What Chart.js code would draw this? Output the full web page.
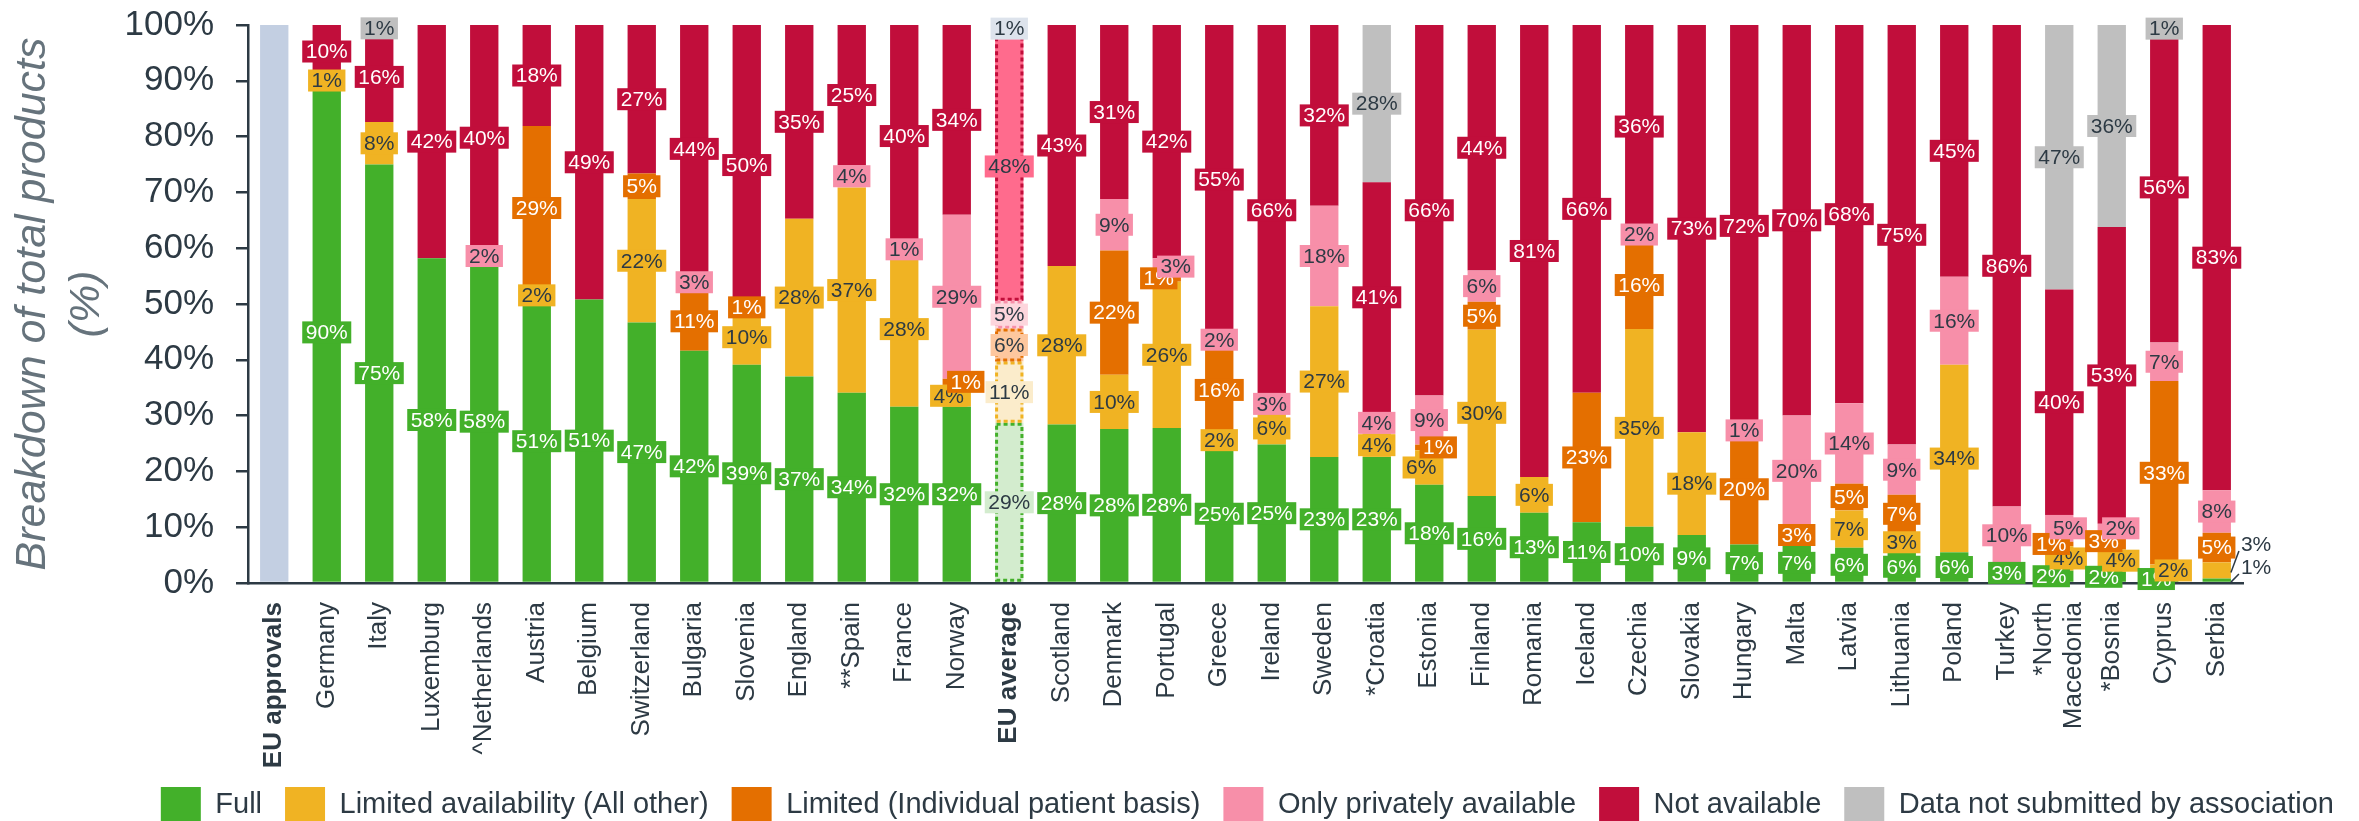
<!DOCTYPE html>
<html>
<head>
<meta charset="utf-8">
<script src="https://cdn.jsdelivr.net/npm/chart.js@4.4.1/dist/chart.umd.min.js"></script>
<style>
  html, body { margin: 0; padding: 0; background: #fff; }
  #wrap { width: 2359px; height: 821px; }
</style>
</head>
<body>
<div id="wrap"><canvas id="chart"></canvas></div>
<script>
// Disponibilidad de productos por pais, barras apiladas al 100%.

const FONT = "'Liberation Sans', Arial, sans-serif";
const INK = '#2d3a44';

const categories = [
  'EU approvals', 'Germany', 'Italy', 'Luxemburg', '^Netherlands', 'Austria', 'Belgium', 'Switzerland',
  'Bulgaria', 'Slovenia', 'England', '**Spain', 'France', 'Norway', 'EU average', 'Scotland', 'Denmark',
  'Portugal', 'Greece', 'Ireland', 'Sweden', '*Croatia', 'Estonia', 'Finland', 'Romania', 'Iceland',
  'Czechia', 'Slovakia', 'Hungary', 'Malta', 'Latvia', 'Lithuania', 'Poland', 'Turkey',
  ['*North', 'Macedonia'], '*Bosnia', 'Cyprus', 'Serbia'
];
const boldCategories = ['EU approvals', 'EU average'];

const euApprovals = [100, 0, 0, 0, 0, 0, 0, 0, 0, 0, 0, 0, 0, 0, 0, 0, 0, 0, 0, 0, 0, 0, 0, 0, 0, 0, 0, 0, 0, 0, 0, 0, 0, 0, 0, 0, 0, 0];

const fullAccess = [0, 89.6, 75, 58.2, 57.6, 50.6, 50.8, 46.7, 41.6, 39.1, 37.0, 34.1, 31.6, 31.6, 28.7, 28.4, 27.6,
  27.8, 24.6, 24.8, 22.6, 22.6, 17.6, 15.6, 12.6, 10.9, 10.1, 8.6, 6.9, 7.0, 6.3, 5.6, 5.5, 3.4, 2.2, 2.0, 1.2, 0.8];
const limitedOther = [0, 0.9, 7.6, 0, 0, 1.9, 0, 22.1, 0, 9.9, 28.3, 36.8, 27.8, 3.9, 11.0, 28.4, 9.7,
  26.2, 2.0, 5.8, 27.0, 4.2, 6.2, 29.8, 6.4, 0, 35.4, 18.4, 0, 0, 6.7, 3.4, 33.6, 0, 4.4, 4.0, 2.1, 2.9];
const limitedPatient = [0, 0, 0, 0, 0, 29.4, 0, 4.6, 10.6, 0.8, 0, 0, 0, 1.1, 5.9, 0, 22.3,
  1.2, 16.0, 0, 0, 0, 1.0, 5.0, 0, 23.2, 15.8, 0, 19.8, 3.2, 4.8, 6.8, 0, 0, 0.8, 3.0, 32.9, 5.3];
const privateOnly = [0, 0, 0, 0, 2.0, 0, 0, 0, 3.4, 0, 0, 4.0, 0.8, 29.4, 5.0, 0, 9.2,
  3.0, 2.0, 3.0, 18.0, 3.8, 8.8, 5.6, 0, 0, 2.3, 0, 1.3, 19.8, 14.4, 9.0, 15.8, 10.3, 4.8, 1.6, 6.9, 7.6];
const notAvailable = [0, 9.5, 16.2, 41.8, 40.4, 18.1, 49.2, 26.6, 44.4, 50.2, 34.7, 25.1, 39.8, 34.0, 48.1, 43.2, 31.2,
  41.8, 55.4, 66.4, 32.4, 41.2, 66.4, 44.0, 81.0, 65.9, 36.4, 73.0, 72.0, 70.0, 67.8, 75.2, 45.1, 86.3, 40.4, 53.2, 55.6, 83.4];
const notSubmitted = [0, 0, 1.2, 0, 0, 0, 0, 0, 0, 0, 0, 0, 0, 0, 1.3, 0, 0,
  0, 0, 0, 0, 28.2, 0, 0, 0, 0, 0, 0, 0, 0, 0, 0, 0, 0, 47.4, 36.2, 1.3, 0];

const series = [
  { label: 'Full', data: fullAccess, color: '#43b02a', avgColor: '#d3ecce', darkText: false },
  { label: 'Limited availability (All other)', data: limitedOther, color: '#f0b323', avgColor: '#fbeccb', darkText: true },
  { label: 'Limited (Individual patient basis)', data: limitedPatient, color: '#e46f00', avgColor: '#fdc79e', darkText: false },
  { label: 'Only privately available', data: privateOnly, color: '#f78fa9', avgColor: '#fdd5dc', darkText: true },
  { label: 'Not available', data: notAvailable, color: '#c10e3b', avgColor: '#ff6b8d', darkText: false },
  { label: 'Data not submitted by association', data: notSubmitted, color: '#bfbfbf', avgColor: '#dde3ec', darkText: true },
];
const AVG_IDX = categories.indexOf('EU average');
const LAST_IDX = categories.length - 1;

// Etiquetas del eje x dibujadas a mano (las de dos lineas centradas en la barra)
const categoryLabels = {
  id: 'categoryLabels',
  afterDraw(chart) {
    const ctx = chart.ctx;
    const sx = chart.scales.x;
    const lh = 30;
    ctx.save();
    ctx.fillStyle = INK;
    ctx.textAlign = 'right';
    ctx.textBaseline = 'middle';
    categories.forEach((cat, i) => {
      const lines = Array.isArray(cat) ? cat : [cat];
      const bold = boldCategories.includes(cat);
      ctx.font = `${bold ? 'bold ' : ''}26px ${FONT}`;
      ctx.save();
      ctx.translate(sx.getPixelForTick(i), sx.top + 19);
      ctx.rotate(-Math.PI / 2);
      lines.forEach((ln, j) => ctx.fillText(ln, 0, (j - (lines.length - 1) / 2) * lh));
      ctx.restore();
    });
    ctx.restore();
  }
};

// Contorno punteado del promedio + etiquetas de cada segmento
const segmentLabels = {
  id: 'segmentLabels',
  afterDatasetsDraw(chart) {
    const ctx = chart.ctx;
    ctx.save();
    ctx.setLineDash([4, 3]);
    ctx.lineWidth = 3;
    series.forEach((s, k) => {
      if (!s.data[AVG_IDX]) return;
      const bar = chart.getDatasetMeta(k + 1).data[AVG_IDX];
      ctx.strokeStyle = s.color;
      ctx.strokeRect(bar.x - bar.width / 2 + 1.5, bar.y + 1.5, bar.width - 3, bar.base - bar.y - 3);
    });
    ctx.restore();

    ctx.save();
    ctx.font = `21px ${FONT}`;
    ctx.textBaseline = 'middle';
    const zeroY = chart.scales.y.getPixelForValue(0);
    for (let i = 1; i < categories.length; i++) {
      const placed = [];
      let nOut = 0;
      series.forEach((s, k) => {
        const v = s.data[i];
        if (!v) return;
        const bar = chart.getDatasetMeta(k + 1).data[i];
        const text = Math.round(v) + '%';
        const yMid = (bar.y + bar.base) / 2;
        if (i === LAST_IDX && v < 4) {
          // Serbia: los segmentos pequenos llevan la etiqueta fuera, a la derecha
          const right = bar.x + bar.width / 2;
          const ly = zeroY - 15 - 23 * nOut;
          nOut++;
          ctx.strokeStyle = INK;
          ctx.lineWidth = 1.5;
          ctx.beginPath();
          ctx.moveTo(right, yMid + 2);
          ctx.lineTo(right + 8, ly + 6);
          ctx.stroke();
          ctx.fillStyle = INK;
          ctx.textAlign = 'left';
          ctx.fillText(text, right + 10, ly);
          return;
        }
        const lab = {
          x: bar.x, y: yMid, text,
          bg: i === AVG_IDX ? s.avgColor : s.color,
          fg: (i === AVG_IDX || s.darkText) ? INK : '#fff'
        };
        // si choca con la etiqueta de abajo, se separan a izquierda/derecha
        const prev = placed[placed.length - 1];
        if (prev && Math.abs(prev.y - lab.y) < 22) {
          if (prev.x === bar.x) prev.x -= 8;
          lab.x = prev.x < bar.x ? bar.x + 9 : bar.x - 8;
        }
        placed.push(lab);
      });
      ctx.textAlign = 'center';
      placed.forEach(l => {
        const w = ctx.measureText(l.text).width + 7;
        ctx.fillStyle = l.bg;
        ctx.fillRect(l.x - w / 2, l.y - 11, w, 22);
        ctx.fillStyle = l.fg;
        ctx.fillText(l.text, l.x, l.y + 1);
      });
    }
    ctx.restore();
  }
};

const datasets = [{
  label: 'EU approvals', data: euApprovals, backgroundColor: '#c3cfe2', stack: 'all'
}].concat(series.map(s => ({
  label: s.label,
  data: s.data,
  stack: 'all',
  backgroundColor: c => (c.dataIndex === AVG_IDX ? s.avgColor : s.color)
})));

new Chart(document.getElementById('chart'), {
  type: 'bar',
  data: { labels: categories, datasets },
  plugins: [segmentLabels, categoryLabels],
  options: {
    responsive: true,
    maintainAspectRatio: false,
    devicePixelRatio: 1,
    animation: false,
    datasets: { bar: { barPercentage: 0.54, categoryPercentage: 1 } },
    layout: { padding: { left: 6, top: 25, right: 2, bottom: -12 } },
    plugins: {
      tooltip: { enabled: false },
      legend: {
        position: 'bottom',
        align: 'end',
        labels: {
          filter: it => it.datasetIndex > 0,
          boxWidth: 40,
          boxHeight: 36,
          padding: 23,
          color: INK,
          font: { family: FONT, size: 29 }
        }
      }
    },
    scales: {
      x: {
        stacked: true,
        grid: { display: false },
        border: { display: true, color: INK, width: 2.5 },
        ticks: { display: false },
        afterFit: s => { s.height = 181; }
      },
      y: {
        stacked: true,
        min: 0,
        max: 100,
        ticks: {
          stepSize: 10, callback: v => v + '%', color: INK, padding: 22,
          font: { family: FONT, size: 35, lineHeight: 0.15 }
        },
        grid: { drawOnChartArea: false, drawTicks: true, tickLength: 12, color: INK, lineWidth: 2.5 },
        border: { color: INK, width: 2.5 },
        title: {
          display: true,
          text: ['Breakdown of total products', '(%)'],
          color: '#66737c',
          font: { family: FONT, size: 43, style: 'italic', lineHeight: 1.25 },
          padding: { top: 0, bottom: 12 }
        },
        afterFit: s => { s.width = 242; }
      },
      spacer: {
        type: 'linear',
        position: 'right',
        display: true,
        grid: { display: false },
        border: { display: false },
        ticks: { display: false },
        afterFit: s => { s.width = 114; }
      }
    }
  }
});
</script>
</body>
</html>
